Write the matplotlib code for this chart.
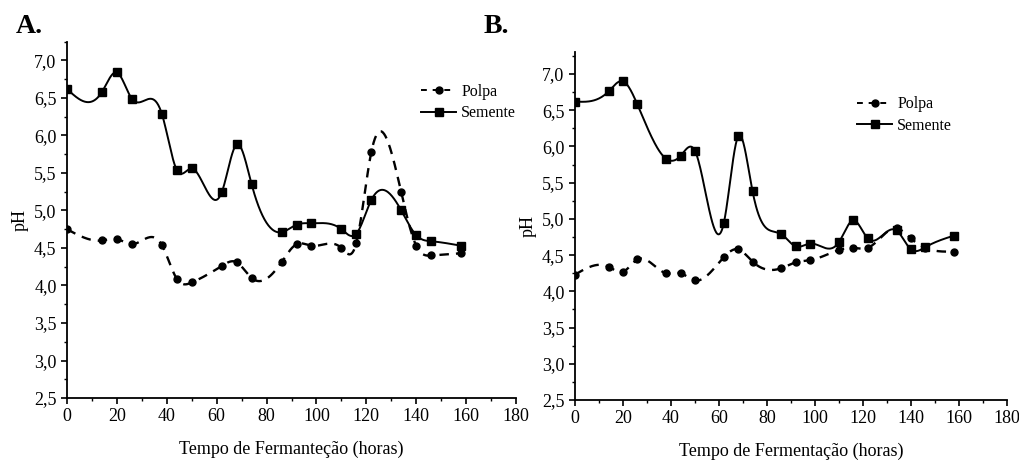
import numpy as np
import matplotlib
matplotlib.use("Agg")
import matplotlib.pyplot as plt
from matplotlib.lines import Line2D
from matplotlib.ticker import MultipleLocator, FuncFormatter

plt.rcParams['font.family'] = ['Liberation Serif', 'DejaVu Serif']

# fermentation time (hours)
tempo = [0, 14, 20, 26, 38, 44, 50, 62, 68, 74, 86, 92, 98, 110, 116, 122, 134, 140, 146, 158]

# panel A
polpa_a = [4.75, 4.60, 4.62, 4.55, 4.54, 4.09, 4.04, 4.26, 4.31, 4.10,
           4.31, 4.55, 4.53, 4.50, 4.57, 5.78, 5.24, 4.53, 4.40, 4.43]
semente_a = [6.62, 6.58, 6.84, 6.49, 6.29, 5.54, 5.56, 5.24, 5.88, 5.35,
             4.71, 4.81, 4.83, 4.75, 4.69, 5.14, 5.00, 4.67, 4.59, 4.53]

# panel B
polpa_b = [4.23, 4.34, 4.27, 4.44, 4.25, 4.25, 4.15, 4.47, 4.58, 4.41,
           4.32, 4.40, 4.43, 4.57, 4.60, 4.60, 4.87, 4.73, 4.60, 4.55]
semente_b = [6.62, 6.76, 6.90, 6.58, 5.83, 5.87, 5.94, 4.94, 6.14, 5.38,
             4.79, 4.62, 4.66, 4.68, 4.98, 4.73, 4.84, 4.58, 4.61, 4.77]


def natural_spline(x, y, n=600):
    """Natural cubic spline through the points (Origin-like smoothed line)."""
    x = np.asarray(x, float)
    y = np.asarray(y, float)
    m = len(x)
    h = np.diff(x)
    A = np.zeros((m, m))
    r = np.zeros(m)
    A[0, 0] = A[-1, -1] = 1
    for i in range(1, m - 1):
        A[i, i - 1] = h[i - 1]
        A[i, i] = 2 * (h[i - 1] + h[i])
        A[i, i + 1] = h[i]
        r[i] = 3 * ((y[i + 1] - y[i]) / h[i] - (y[i] - y[i - 1]) / h[i - 1])
    c = np.linalg.solve(A, r)
    b = np.diff(y) / h - h * (2 * c[:-1] + c[1:]) / 3
    d = np.diff(c) / (3 * h)
    xs = np.linspace(x[0], x[-1], n)
    idx = np.clip(np.searchsorted(x, xs, side='right') - 1, 0, m - 2)
    dx = xs - x[idx]
    ys = y[idx] + b[idx] * dx + c[idx] * dx ** 2 + d[idx] * dx ** 3
    return xs, ys


comma = FuncFormatter(lambda v, p: f"{v:.1f}".replace('.', ','))

fig = plt.figure(figsize=(10.2, 4.62), dpi=100)
ax_a = fig.add_axes([0.0657, 0.1385, 0.4402, 0.7712])
ax_b = fig.add_axes([0.5637, 0.1342, 0.4235, 0.7526])

panels = [
    (ax_a, polpa_a, semente_a, 7.25, "Tempo de Fermanteção (horas)", (0.771, 0.905)),
    (ax_b, polpa_b, semente_b, 7.3, "Tempo de Fermentação (horas)", (0.635, 0.897)),
]

for ax, polpa, semente, ytop, xlab, legpos in panels:
    xs, ys = natural_spline(tempo, semente)
    ax.plot(xs, ys, color='black', lw=1.4)
    ax.plot(tempo, semente, ls='none', marker='s', ms=5.5, color='black')
    xs, ys = natural_spline(tempo, polpa)
    ax.plot(xs, ys, color='black', lw=1.7, dashes=(4, 3))
    ax.plot(tempo, polpa, ls='none', marker='o', ms=5, color='black')

    ax.set_xlim(0, 180)
    ax.set_ylim(2.5, ytop)
    ax.xaxis.set_major_locator(MultipleLocator(20))
    ax.xaxis.set_minor_locator(MultipleLocator(10))
    ax.yaxis.set_minor_locator(MultipleLocator(0.25))
    ax.yaxis.set_major_formatter(comma)
    ax.set_yticks(np.arange(2.5, 7.01, 0.5))
    ax.tick_params(axis='both', which='major', direction='out', length=4, width=1.2,
                   labelsize=13)
    ax.tick_params(axis='both', which='minor', direction='out', length=2.5, width=1)
    for s in ['top', 'right']:
        ax.spines[s].set_visible(False)
    for s in ['left', 'bottom']:
        ax.spines[s].set_linewidth(1.3)
    ax.set_xlabel(xlab, fontsize=13, labelpad=11)
    ax.set_ylabel("pH", fontsize=13, labelpad=4)

    handles = [
        Line2D([], [], color='black', lw=1.4, dashes=(3, 3), marker='o', ms=5),
        Line2D([], [], color='black', lw=1.4, marker='s', ms=5.5),
    ]
    ax.legend(handles, ["Polpa", "Semente"], loc='upper left', bbox_to_anchor=legpos,
              frameon=False, fontsize=11.5, handlelength=2.2, handletextpad=0.3,
              labelspacing=0.35, borderpad=0)

fig.text(0.015, 0.942, "A.", fontsize=20, fontweight='bold', va='center')
fig.text(0.474, 0.942, "B.", fontsize=20, fontweight='bold', va='center')

fig.savefig("out.png", dpi=100)
